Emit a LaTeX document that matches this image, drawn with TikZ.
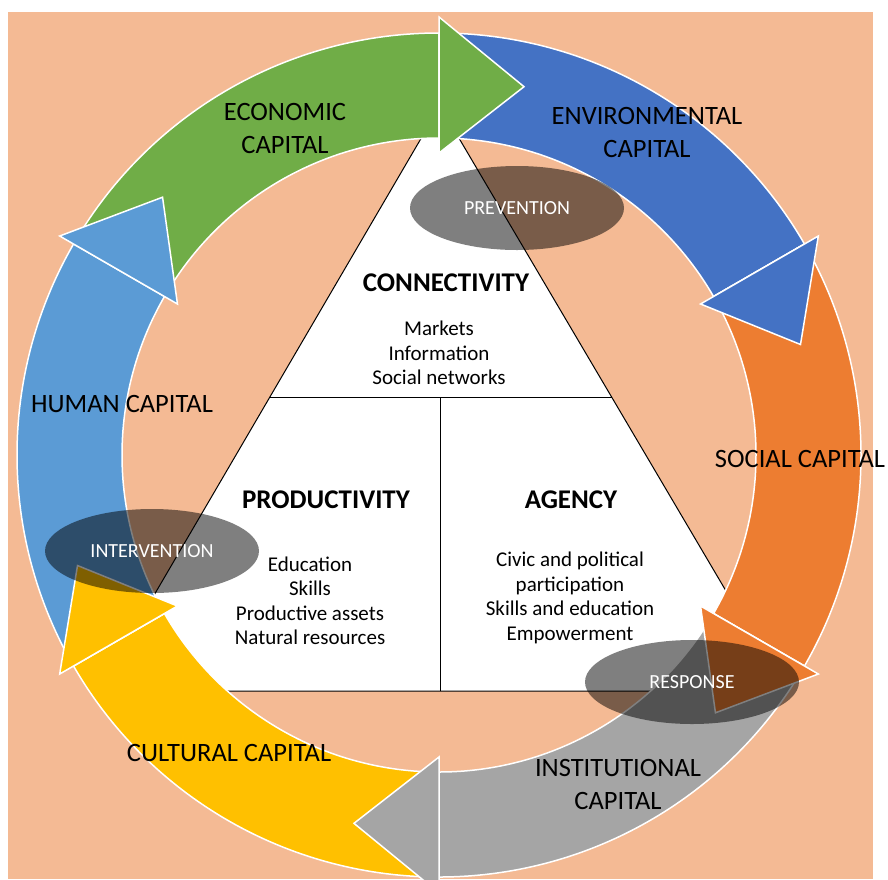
\documentclass[tikz,border=0pt]{standalone}
\usepackage{fontspec}
\setmainfont{Carlito}
\usetikzlibrary{shapes.geometric}
\definecolor{peach}{HTML}{F4BA94}
\definecolor{ecogreen}{HTML}{70AD47}
\definecolor{envblue}{HTML}{4472C4}
\definecolor{socorange}{HTML}{ED7D31}
\definecolor{instgray}{HTML}{A5A5A5}
\definecolor{cultyellow}{HTML}{FFC000}
\definecolor{humblue}{HTML}{5B9BD5}
\tikzset{
  ringlabel/.style={inner sep=0pt, align=center, font=\fontsize{26.5}{33}\selectfont},
  headlabel/.style={inner sep=0pt, align=center, font=\fontsize{27}{30}\selectfont\bfseries},
  smalltext/.style={inner sep=0pt, align=center, font=\fontsize{21}{24.5}\selectfont},
  overlay ellipse/.style={ellipse, inner sep=0pt, minimum width=214pt, minimum height=84pt,
     fill=black, fill opacity=0.5, text opacity=1, text=white, font=\fontsize{20}{22}\selectfont},
  ringpart/.style={draw=white, line width=1.5pt, line join=miter}
}
\begin{document}
\begin{tikzpicture}[x=1pt,y=1pt]
\useasboundingbox (0,0) rectangle (888,-879);
\fill[peach] (8,-12) rectangle (873,-879);
% triangle
\coordinate (tA) at (440,-106);
\coordinate (tB) at (98,-691);
\coordinate (tC) at (785,-691);
\filldraw[fill=white, draw=black, line width=1pt] (tA) -- (tB) -- (tC) -- cycle;
\coordinate (hL) at (270,-397);
\coordinate (hR) at (612,-397);
\coordinate (vT) at (440,-397);
\coordinate (vB) at (440,-691);
\draw[line width=1pt] (hL) -- (hR);
\draw[line width=1pt] (vT) -- (vB);
% ring arrows
\begin{scope}[shift={(439,-455)}]
\foreach \s/\e/\c in {150/90/ecogreen, 90/30/envblue, 30/-30/socorange, -30/-90/instgray, -90/-150/cultyellow, -150/-210/humblue}
  \filldraw[fill=\c, ringpart] (\s:422pt) arc[start angle=\s, end angle=\e, radius=422pt]
     -- (\e:317pt) arc[start angle=\e, end angle=\s, radius=317pt] -- cycle;
\foreach \e/\c in {90/ecogreen, 30/envblue, -30/socorange, -90/instgray, -150/cultyellow, -210/humblue}
  \filldraw[fill=\c, ringpart] (\e:302pt) -- (\e:438pt) -- ({\e-13}:378pt) -- cycle;
\end{scope}
% ring labels
\node[ringlabel] (eco) at (285,-128) {ECONOMIC\\CAPITAL};
\node[ringlabel] (env) at (647,-132) {ENVIRONMENTAL\\CAPITAL};
\node[ringlabel] (soc) at (800,-459) {SOCIAL CAPITAL};
\node[ringlabel] (inst) at (618,-784) {INSTITUTIONAL\\CAPITAL};
\node[ringlabel] (cult) at (229,-753) {CULTURAL CAPITAL};
\node[ringlabel] (hum) at (122,-404) {HUMAN CAPITAL};
% triangle texts
\node[headlabel] (conn) at (446,-283) {CONNECTIVITY};
\node[smalltext] (connl) at (439,-353) {Markets\\Information\\Social networks};
\node[headlabel] (prod) at (326,-500) {PRODUCTIVITY};
\node[smalltext] (prodl) at (310,-601) {Education\\Skills\\Productive assets\\Natural resources};
\node[headlabel] (agen) at (571,-500) {AGENCY};
\node[smalltext] (agenl) at (570,-598) {Civic and political\\participation\\Skills and education\\Empowerment};
% overlay ellipses
\node[overlay ellipse] (prev) at (517,-208) {PREVENTION};
\node[overlay ellipse] (interv) at (152,-551) {INTERVENTION};
\node[overlay ellipse] (resp) at (692,-682) {RESPONSE};
\end{tikzpicture}
\end{document}
